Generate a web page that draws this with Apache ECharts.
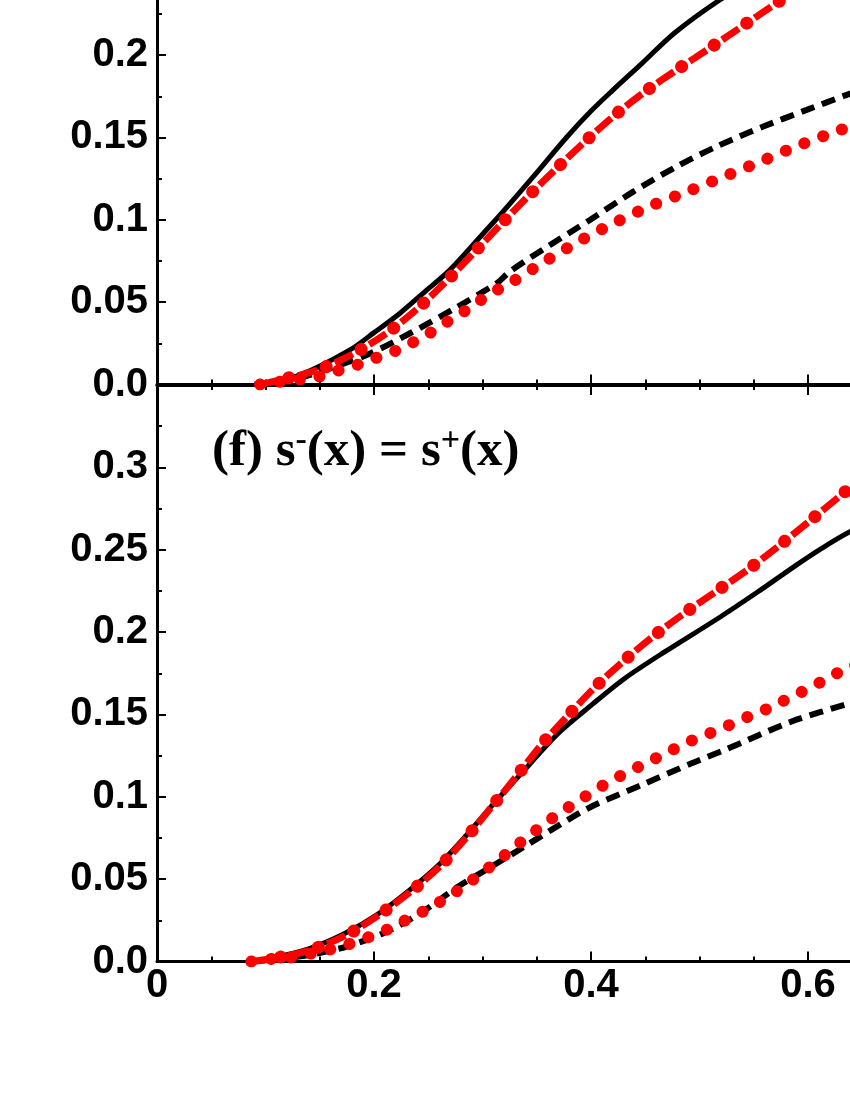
<!DOCTYPE html>
<html>
<head>
<meta charset="utf-8">
<script src="https://cdn.jsdelivr.net/npm/echarts@6/dist/echarts.min.js"></script>
<style>
  html, body { margin: 0; padding: 0; background: #fff; }
  #main { width: 850px; height: 1100px; }
</style>
</head>
<body>
<div id="main"></div>
<script>
// x ticks and y ticks
var xTicks = [0, 0.2, 0.4, 0.6];
var yTicks = [0, 0.05, 0.1, 0.15, 0.2, 0.25, 0.3];

// upper panel (its top is cut off in the figure)
var topSolid = [[0.09, 0], [0.10, 0.001], [0.1318, 0.0058], [0.1779, 0.021], [0.2, 0.0315], [0.224, 0.0433],
  [0.247, 0.0564], [0.27, 0.0696], [0.3007, 0.0917], [0.317, 0.1035], [0.3468, 0.1262], [0.3776, 0.1501],
  [0.4, 0.166], [0.419, 0.178], [0.447, 0.195], [0.477, 0.2134], [0.519, 0.2336],
  [0.56, 0.25], [0.62, 0.27], [0.7, 0.29]];
var topDashDot = [[0.095, 0], [0.1134, 0.0027], [0.1487, 0.009], [0.181, 0.0187], [0.2117, 0.0311],
  [0.24, 0.046], [0.2666, 0.0627], [0.2919, 0.0799], [0.317, 0.0973], [0.3422, 0.1144], [0.3684, 0.1313],
  [0.3945, 0.1475], [0.4215, 0.1633], [0.45, 0.1779], [0.4799, 0.1914], [0.5103, 0.2046], [0.5533, 0.2237],
  [0.5757, 0.2336], [0.62, 0.252], [0.7, 0.28]];
var topDashed = [[0.09, 0], [0.12, 0.002], [0.1502, 0.0078], [0.1933, 0.0179], [0.2332, 0.0311],
  [0.2731, 0.0457], [0.3131, 0.0615], [0.3253, 0.0686], [0.3622, 0.0847], [0.399, 0.0999], [0.439, 0.1171],
  [0.479, 0.1323], [0.5158, 0.1445], [0.5588, 0.1566], [0.5988, 0.1667], [0.6356, 0.1758], [0.68, 0.186]];
var topDotted = [[0.095, 0], [0.1134, 0.0017], [0.1487, 0.0047], [0.1665, 0.0084], [0.184, 0.0118],
  [0.2009, 0.0159], [0.2178, 0.0199], [0.2341, 0.025], [0.2501, 0.0307], [0.2654, 0.0372], [0.2814, 0.0436],
  [0.2962, 0.0503], [0.3108, 0.0564], [0.3278, 0.0625], [0.3582, 0.075], [0.3898, 0.0872], [0.4221, 0.0983],
  [0.455, 0.1084], [0.4888, 0.1171], [0.5226, 0.1262], [0.5564, 0.1354], [0.5889, 0.1445], [0.6233, 0.153],
  [0.68, 0.166]];

// lower panel (f)
var botSolid = [[0.087, 0], [0.104, 0.0018], [0.139, 0.0075], [0.173, 0.017], [0.204, 0.029], [0.233, 0.0435],
  [0.261, 0.0595], [0.285, 0.0765], [0.3085, 0.0945], [0.3346, 0.1133], [0.3699, 0.1386], [0.4006, 0.1558],
  [0.4313, 0.172], [0.4682, 0.1881], [0.5173, 0.2084], [0.5542, 0.2246], [0.5849, 0.2387], [0.6126, 0.2508],
  [0.6387, 0.2609], [0.68, 0.273]];
var botDashDot = [[0.087, 0], [0.104, 0.0015], [0.139, 0.0065], [0.173, 0.0155], [0.204, 0.028], [0.233, 0.042],
  [0.261, 0.058], [0.2854, 0.0755], [0.3085, 0.094], [0.3315, 0.1126], [0.3539, 0.1313], [0.3785, 0.1491],
  [0.4036, 0.1665], [0.4304, 0.1826], [0.4578, 0.1976], [0.4872, 0.212], [0.5171, 0.2255], [0.5441, 0.2377],
  [0.5733, 0.2524], [0.6018, 0.2676], [0.6295, 0.2826], [0.68, 0.31]];
var botDashed = [[0.087, 0], [0.1041, 0.001], [0.1411, 0.0041], [0.1748, 0.0091], [0.2086, 0.0172],
  [0.2408, 0.0285], [0.2777, 0.0455], [0.3085, 0.0577], [0.3392, 0.07], [0.3699, 0.0825], [0.4006, 0.0941],
  [0.4467, 0.1072], [0.4928, 0.1204], [0.5235, 0.1285], [0.5849, 0.1457], [0.6387, 0.1568], [0.68, 0.165]];
var botDotted = [[0.087, 0], [0.1041, 0.0015], [0.1226, 0.0024], [0.1394, 0.0045], [0.1579, 0.0071],
  [0.1748, 0.0101], [0.1926, 0.0142], [0.2095, 0.0186], [0.2255, 0.0239], [0.2424, 0.0294], [0.2578, 0.035],
  [0.2737, 0.0415], [0.2885, 0.0484], [0.3029, 0.0555], [0.317, 0.0627], [0.3309, 0.0702], [0.3453, 0.0775],
  [0.3597, 0.0848], [0.3745, 0.0916], [0.3899, 0.0981], [0.4053, 0.1046], [0.4212, 0.1107], [0.4375, 0.1161],
  [0.4535, 0.1214], [0.4704, 0.1268], [0.4857, 0.1321], [0.5017, 0.1365], [0.5186, 0.141], [0.5296, 0.1442],
  [0.5465, 0.1491], [0.5634, 0.1537], [0.5788, 0.1587], [0.5957, 0.1642], [0.612, 0.1697], [0.628, 0.1754],
  [0.68, 0.19]];

var labelFont = { fontFamily: "Liberation Sans", fontWeight: "bold", fontSize: 40, color: "#000" };
var axisLine = { lineStyle: { color: "#000", width: 3 } };

function fmtY(v) {
  v = +v.toFixed(3);
  if (yTicks.indexOf(v) < 0) return "";
  return v === 0 ? "0.0" : String(v);
}
function fmtX(v) {
  v = +v.toFixed(3);
  return xTicks.indexOf(v) < 0 ? "" : String(v);
}

function xAxis(gridIndex, position, showLabel) {
  return {
    type: "value", gridIndex: gridIndex, position: position,
    min: 0, max: 0.8, interval: 0.2,
    axisLine: axisLine,
    axisTick: { inside: true, length: 10, lineStyle: { color: "#000", width: 2 } },
    minorTick: { show: true, splitNumber: 4, length: 5, lineStyle: { color: "#000", width: 2 } },
    splitLine: { show: false },
    axisLabel: Object.assign({ show: showLabel, margin: 4, formatter: fmtX }, labelFont)
  };
}
function yAxis(gridIndex) {
  return {
    type: "value", gridIndex: gridIndex,
    min: 0, max: 0.35, interval: 0.05,
    axisLine: axisLine,
    axisTick: { inside: true, length: 9, lineStyle: { color: "#000", width: 2 } },
    minorTick: { show: true, splitNumber: 2, length: 5, lineStyle: { color: "#000", width: 2 } },
    splitLine: { show: false },
    axisLabel: Object.assign({ margin: 9, formatter: fmtY }, labelFont)
  };
}

// one curve = several line series sharing the data (dash-dot is a dash line + a dot line)
function curves(idx, solid, dashDot, dashed, dotted) {
  var base = { type: "line", xAxisIndex: idx === 0 ? 0 : 1, yAxisIndex: idx, symbol: "none", smooth: 0.3, silent: true };
  return [
    Object.assign({ data: solid, lineStyle: { color: "#000", width: 5 } }, base),
    Object.assign({ data: dashed, lineStyle: { color: "#000", width: 6, type: [14, 8] } }, base),
    Object.assign({ data: dashDot, lineStyle: { color: "#ff0000", width: 7, type: [20, 19] } }, base),
    Object.assign({ data: dashDot, lineStyle: { color: "#ff0000", width: 13, type: [0.1, 38.9], dashOffset: 9.5, cap: "round" } }, base),
    Object.assign({ data: dotted, lineStyle: { color: "#ff0000", width: 12, type: [0.1, 19.9], cap: "round" } }, base)
  ];
}

var myChart = echarts.init(document.getElementById("main"));

var option = {
  animation: false,
  backgroundColor: "#fff",
  // the figure is cropped: both panels run past the right edge, the upper one past the top
  grid: [
    { left: 157, top: -192, width: 868, height: 576.5, outerBoundsMode: "none" },
    { left: 157, top: 385, width: 868, height: 576.5, outerBoundsMode: "none" }
  ],
  xAxis: [xAxis(0, "bottom", false), xAxis(1, "bottom", true), xAxis(1, "top", false)],
  yAxis: [yAxis(0), yAxis(1)],
  graphic: [{
    type: "text", left: 212, top: 424,
    style: {
      text: "{a|(f) s}{sup|-}{a|(x) = s}{sup|+}{a|(x)}",
      rich: {
        a: { fontFamily: "Liberation Serif", fontWeight: "bold", fontSize: 51, lineHeight: 56, fill: "#000" },
        sup: { fontFamily: "Liberation Serif", fontWeight: "bold", fontSize: 34, lineHeight: 10, verticalAlign: "top", fill: "#000" }
      }
    }
  }],
  series: curves(0, topSolid, topDashDot, topDashed, topDotted)
    .concat(curves(1, botSolid, botDashDot, botDashed, botDotted))
};

myChart.setOption(option);
</script>
</body>
</html>
